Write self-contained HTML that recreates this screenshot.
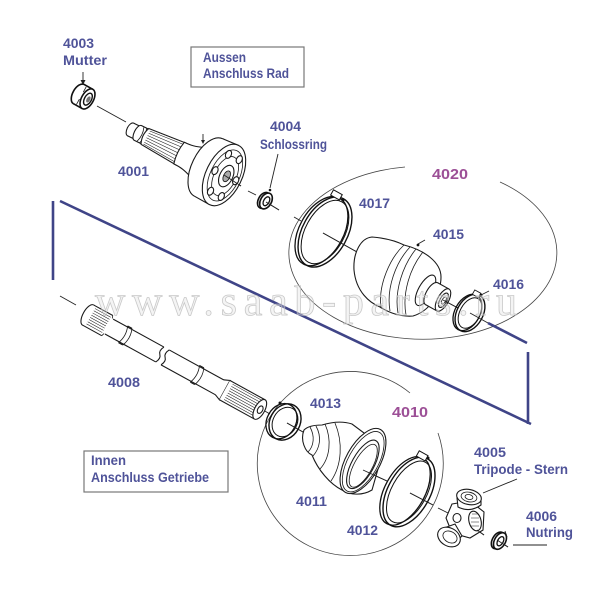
<!DOCTYPE html>
<html><head><meta charset="utf-8"><style>
html,body{margin:0;padding:0;background:#fff;}
svg{display:block}
.l{font-family:"Liberation Sans",sans-serif;font-size:13.5px;font-weight:bold;fill:#4f5399}
.p{font-family:"Liberation Sans",sans-serif;font-size:14.5px;font-weight:bold;fill:#9c4f96}
.k{fill:#fff;stroke:#1a1a1a;stroke-width:1.1}
.t{fill:none;stroke:#1a1a1a;stroke-width:0.8}
.s{fill:none;stroke:#1a1a1a;stroke-width:0.55}
.c{fill:none;stroke:#222;stroke-width:0.9}
.n{fill:none;stroke:#3f4487;stroke-width:2.6;stroke-linecap:butt}
</style></head><body>
<svg width="600" height="600" viewBox="0 0 600 600" xmlns="http://www.w3.org/2000/svg">
<rect width="600" height="600" fill="#fff"/>

<!-- group ellipses -->
<path d="M500,182 A134,86.5 0 1 1 405,167" fill="none" stroke="#444" stroke-width="0.8"/>
<path d="M438,433 A93,92 0 1 1 410,393" fill="none" stroke="#444" stroke-width="0.8"/>

<!-- bracket -->
<path class="n" d="M53,201 L53,280"/>
<path class="n" d="M60,201 L531,424"/>
<path class="n" d="M528,352 L528,424"/>
<path class="n" d="M488,323 L527,343"/>

<!-- boxes -->
<rect x="191" y="47" width="113" height="40" fill="#fff" stroke="#777" stroke-width="1.2"/>
<rect x="84" y="451" width="144" height="41" fill="#fff" stroke="#777" stroke-width="1.2"/>

<!-- connector lines upper -->
<path class="c" d="M97,106 L126,122"/>
<path class="c" d="M224,175 L241,186 M248,191 L256,195 M266,202 L279,210 M294,217 L301,221 M323,233 L357,252 M443,300 L458,308"/>

<!-- nut 4003 -->
<g transform="translate(84,97) rotate(29)">
  <ellipse cx="-6" cy="0" rx="6" ry="11" fill="#fff" stroke="#111" stroke-width="1.6"/>
  <rect x="-6" y="-11" width="10" height="22" fill="#fff"/>
  <path d="M-6,-11 H4 M-6,11 H4" stroke="#111" stroke-width="1.6" fill="none"/>
  <path d="M-3,-10 L-3,-4 M-3,4 L-3,10" class="t"/>
  <ellipse cx="4" cy="0" rx="6" ry="11" fill="#fff" stroke="#111" stroke-width="1.6"/>
  <ellipse cx="4.5" cy="0" rx="3.5" ry="6.5" fill="#fff" stroke="#111" stroke-width="1.4"/>
  <ellipse cx="5" cy="0" rx="1.8" ry="3.4" fill="#777"/>
</g>

<!-- joint 4001 -->
<g transform="translate(224,175) rotate(26)">
  <ellipse cx="-104" cy="0" rx="3.5" ry="7" class="k"/>
  <rect x="-104" y="-7" width="8" height="14" fill="#fff"/>
  <path class="k" d="M-104,-7 H-96 M-104,7 H-96"/>
  <ellipse cx="-96" cy="0" rx="3.5" ry="8.2" class="k"/>
  <rect x="-96" y="-8.2" width="9" height="16.4" fill="#fff"/>
  <path class="k" d="M-96,-8.2 H-87 M-96,8.2 H-87"/>
  <path class="t" d="M-93,-8 Q-90,0 -93,8 M-90,-8 Q-87,0 -90,8"/>
  <path class="k" d="M-88,-8.8 L-48,-12 L-48,12 L-88,8.8 Q-92,0 -88,-8.8 Z"/>
  <path class="s" d="M-86,-7 L-49,-9.8 M-86,-4.5 L-49,-6.5 M-86,-2 L-49,-3.2 M-86,0.5 L-49,0.2 M-86,3 L-49,3.6 M-86,5.5 L-49,7 M-86,7.5 L-49,9.8"/>
  <path class="k" d="M-50,-12 C-42,-12 -38,-13 -30,-16 L-30,16 C-38,13 -42,12 -50,12 Q-53,0 -50,-12 Z"/>
  <ellipse cx="-17" cy="0" rx="17" ry="32" class="k"/>
  <rect x="-17" y="-32" width="17" height="64" fill="#fff"/>
  <path class="k" d="M-17,-32 L0,-33 M-17,32 L0,33"/>
  <ellipse cx="0" cy="0" rx="18" ry="33" class="k" stroke-width="1.3"/>
  <ellipse cx="1" cy="0" rx="14.5" ry="27.5" class="t"/>
  <ellipse cx="1.5" cy="0.5" rx="11" ry="21" class="t"/>
  <ellipse cx="13" cy="0" rx="2.8" ry="4.2" class="k"/>
  <ellipse cx="7" cy="20.5" rx="2.8" ry="4.2" class="k"/>
  <ellipse cx="-5" cy="20.5" rx="2.8" ry="4.2" class="k"/>
  <ellipse cx="-10" cy="0" rx="2.8" ry="4.2" class="k"/>
  <ellipse cx="-5" cy="-20.5" rx="2.8" ry="4.2" class="k"/>
  <ellipse cx="7" cy="-20.5" rx="2.8" ry="4.2" class="k"/>
  <ellipse cx="2.5" cy="0" rx="6.5" ry="11.5" class="k"/>
  <ellipse cx="3" cy="0" rx="3.2" ry="5.8" fill="#aaa" stroke="#111" stroke-width="0.8"/>
</g>
<path class="c" d="M224,175 L241,186"/>

<!-- ring 4004 -->
<g transform="translate(266,201) rotate(29)">
  <ellipse cx="-2.2" cy="0.5" rx="5.5" ry="8.5" fill="#fff" stroke="#111" stroke-width="1.6"/>
  <ellipse cx="0" cy="0" rx="5.5" ry="8.5" fill="#fff" stroke="#111" stroke-width="1.6"/>
  <ellipse cx="0.5" cy="0" rx="2.8" ry="4.8" fill="#fff" stroke="#111" stroke-width="1.3"/>
</g>
<path class="c" d="M266,202 L279,210"/>

<!-- ring 4017 -->
<g transform="translate(325,232) rotate(29)">
  <ellipse cx="-3.5" cy="1" rx="22" ry="37.5" fill="none" stroke="#111" stroke-width="1.3"/>
  <ellipse cx="0" cy="0" rx="22.5" ry="38" fill="none" stroke="#111" stroke-width="1.4"/>
  <ellipse cx="0" cy="0" rx="19.5" ry="34.5" fill="none" stroke="#111" stroke-width="1"/>
  <rect x="-13" y="-41" width="10" height="6" fill="#fff" stroke="#111" stroke-width="1"/>
</g>
<path class="c" d="M323,233 L357,252"/>

<!-- boot 4015 -->
<path class="k" stroke-width="1.3" d="M372,237 C385,238 396,241 404,245 C424,250 441,262 441,277 C441,293 430,311 413,316 C400,317 388,312 380,307 C370,303 356,292 354,270 C353,252 361,238 372,237 Z"/>
<path class="t" d="M404,245 C390,258 378,285 381,307 M410,247 C396,262 386,288 390,311 M416,249 C403,265 394,291 398,313 M423,252 C410,268 402,293 406,315"/>
<g transform="translate(443,300) rotate(29)">
  <ellipse cx="-20" cy="0" rx="7" ry="17" class="k"/>
  <ellipse cx="-13" cy="0" rx="5.5" ry="12.5" class="k"/>
  <rect x="-13" y="-12.5" width="13" height="25" fill="#fff"/>
  <path class="k" d="M-13,-12.5 H0 M-13,12.5 H0"/>
  <ellipse cx="0" cy="0" rx="5.5" ry="12.5" class="k"/>
  <ellipse cx="0.5" cy="0" rx="3.5" ry="8" class="k"/>
  <ellipse cx="1" cy="0" rx="1.8" ry="4" class="t"/>
</g>
<path class="c" d="M443,300 L458,308"/>

<!-- ring 4016 -->
<g transform="translate(470,313) rotate(29)">
  <ellipse cx="-2.5" cy="0.8" rx="12.5" ry="19.5" fill="none" stroke="#111" stroke-width="1.3"/>
  <ellipse cx="0" cy="0" rx="13" ry="20" fill="none" stroke="#111" stroke-width="1.4"/>
  <ellipse cx="0" cy="0" rx="10" ry="16.5" fill="none" stroke="#111" stroke-width="1"/>
  <rect x="-7" y="-22.5" width="7" height="5" fill="#fff" stroke="#111" stroke-width="0.9"/>
</g>
<path class="c" d="M470,313 L488,323"/>

<!-- lower connectors -->
<path class="c" d="M60,296 L76,305 M263,410 L270,414 M287,423 L303,432 M363,470 L387,481 M410,493 L433,505 M438,508 L450,514 M477,530 L484,535 M497,540 L508,547"/>

<!-- shaft 4008 -->
<g transform="translate(88,315) rotate(28.8)">
  <ellipse cx="0" cy="0" rx="5" ry="11.5" class="k"/>
  <rect x="0" y="-11.5" width="22" height="23" fill="#fff"/>
  <path class="k" d="M0,-11.5 H22 M0,11.5 H22"/>
  <path class="s" d="M3,-9 H21 M3,-6.5 H21 M3,-4 H21 M3,-1.5 H21 M3,1 H21 M3,3.5 H21 M3,6 H21 M3,8.5 H21"/>
  <path class="t" d="M22,-11.5 Q26,0 22,11.5"/>
  <rect x="22" y="-8.5" width="60" height="17" fill="#fff"/>
  <path class="k" d="M24,-8.5 H82 M24,8.5 H82"/>
  <path class="k" d="M40,-9.5 H45 M40,9.5 H45"/>
  <path class="t" d="M40,-9.5 Q44,0 40,9.5 M45,-9.5 Q49,0 45,9.5"/>
  <path class="k" d="M82,-8.5 Q79,-3 82,0 Q85,3 82,8.5"/>
  <rect x="88" y="-8.5" width="64" height="17" fill="#fff"/>
  <path class="k" d="M88,-8.5 Q85,-3 88,0 Q91,3 88,8.5"/>
  <path class="k" d="M88,-8.5 H152 M88,8.5 H152"/>
  <path class="k" d="M122,-9.5 H127 M122,9.5 H127"/>
  <path class="t" d="M122,-9.5 Q126,0 122,9.5 M127,-9.5 Q131,0 127,9.5"/>
  <path class="k" d="M150,-8.5 L156,-11 L156,11 L150,8.5"/>
  <rect x="156" y="-11" width="40" height="22" fill="#fff"/>
  <path class="k" d="M156,-11 H196 M156,11 H196"/>
  <path class="s" d="M160,-9 H194 M160,-6.5 H194 M160,-4 H194 M160,-1.5 H194 M160,1 H194 M160,3.5 H194 M160,6 H194 M160,8.5 H194"/>
  <ellipse cx="196" cy="0" rx="5" ry="11" class="k"/>
  <ellipse cx="196.5" cy="0" rx="2.5" ry="4" class="k"/>
</g>

<!-- ring 4013 -->
<g transform="translate(285,422) rotate(29)">
  <ellipse cx="-3.5" cy="1" rx="14.5" ry="18.5" fill="none" stroke="#111" stroke-width="1.3"/>
  <ellipse cx="0" cy="0" rx="15" ry="19" fill="none" stroke="#111" stroke-width="1.4"/>
  <ellipse cx="0" cy="0" rx="12" ry="15.5" fill="none" stroke="#111" stroke-width="1"/>
</g>
<path class="c" d="M287,423 L303,432"/>

<!-- boot 4011 -->
<path class="k" stroke-width="1.3" d="M304,430 C308,426 316,425 322,425 C332,422 343,421 352,424 L384,448 L372,490 C362,496 350,495 342,490 C330,484 318,470 312,455 C305,452 300,440 304,430 Z"/>
<path class="t" d="M310,427 C315,436 314,446 308,452 M316,426 C322,437 320,448 313,456 M325,424 C332,440 330,458 320,469 M335,423 C343,442 342,465 331,481"/>
<g transform="translate(363,461) rotate(29)">
  <ellipse cx="0" cy="0" rx="17" ry="36" class="k" stroke-width="1.3"/>
  <ellipse cx="0.5" cy="0.5" rx="15" ry="33.5" class="t"/>
  <ellipse cx="1.5" cy="3" rx="11" ry="27" class="k" stroke-width="1.2"/>
  <ellipse cx="2.5" cy="4" rx="9" ry="24" class="t"/>
</g>
<path class="c" d="M363,470 L387,481"/>

<!-- ring 4012 -->
<g transform="translate(409,492) rotate(29)">
  <ellipse cx="-4" cy="1" rx="20" ry="37.5" fill="none" stroke="#111" stroke-width="1.3"/>
  <ellipse cx="0" cy="0" rx="21" ry="38" fill="none" stroke="#111" stroke-width="1.4"/>
  <ellipse cx="0" cy="0" rx="17.5" ry="34" fill="none" stroke="#111" stroke-width="1"/>
  <rect x="-11" y="-41" width="10" height="6" fill="#fff" stroke="#111" stroke-width="1"/>
</g>
<path class="c" d="M410,493 L433,505"/>

<!-- tripod 4005 -->
<path class="k" d="M452,504 L470,501 L484,512 L483,530 L470,538 L452,533 L446,518 Z"/>
<ellipse cx="457" cy="518" rx="4" ry="4.5" class="k"/>
<ellipse cx="475" cy="521" rx="6" ry="10" transform="rotate(-15 475 521)" class="k"/>
<path class="s" d="M472,514 L478,514 M471,518 L479,518 M471,522 L479,522 M471,526 L479,526"/>
<path class="k" d="M457,498 L458,507 Q470,513 481,505 L481,497 Z"/>
<ellipse cx="469" cy="497" rx="12.5" ry="7.5" transform="rotate(12 469 497)" class="k" stroke-width="1.3"/>
<ellipse cx="469" cy="497" rx="8" ry="4.8" transform="rotate(12 469 497)" class="t"/>
<ellipse cx="469" cy="497" rx="4" ry="2.4" transform="rotate(12 469 497)" class="t"/>
<path class="k" d="M444,528 L455,524 L462,536 L452,545 Z"/>
<ellipse cx="449" cy="537" rx="12" ry="9" transform="rotate(30 449 537)" class="k" stroke-width="1.3"/>
<ellipse cx="450" cy="537" rx="7.5" ry="5.5" transform="rotate(30 450 537)" class="t"/>
<path class="c" d="M477,530 L484,535"/>

<!-- ring 4006 -->
<g transform="translate(500,541) rotate(29)">
  <ellipse cx="-2.2" cy="0.5" rx="5.5" ry="9" fill="#fff" stroke="#111" stroke-width="1.6"/>
  <ellipse cx="0" cy="0" rx="5.5" ry="9" fill="#fff" stroke="#111" stroke-width="1.6"/>
  <ellipse cx="0.5" cy="0" rx="2.8" ry="5" fill="#fff" stroke="#111" stroke-width="1.3"/>
</g>
<path class="c" d="M497,540 L508,547"/>

<!-- leaders / arrows / dots -->
<path class="c" d="M83,72 L83,81"/>
<path d="M80.5,80 L85.5,80 L83,85 Z" fill="#222"/>
<path class="c" d="M203,134 L203,141"/>
<path d="M201,140 L205,140 L203,144 Z" fill="#222"/>
<path class="c" d="M278,154 L270,188"/>
<circle cx="270" cy="190" r="1.3" fill="#111"/>
<circle cx="343" cy="200" r="1.5" fill="#111"/>
<path class="c" d="M418,244 L425,240"/>
<circle cx="418" cy="245" r="1.4" fill="#111"/>
<path class="c" d="M481,295 L489,291"/>
<circle cx="481" cy="295" r="1.4" fill="#111"/>
<circle cx="280" cy="403" r="1.5" fill="#111"/>
<circle cx="428" cy="458" r="1.5" fill="#111"/>
<path class="c" d="M483,493 L517,479"/>
<path class="c" d="M513,545 L547,545"/>
<path class="c" d="M505,531 L507,537"/>

<!-- watermark -->
<text x="95" y="315" font-family="Liberation Serif, serif" font-size="42" textLength="422" lengthAdjust="spacing" fill="#e0e0e0" fill-opacity="0.35" stroke="#bdbdbd" stroke-width="0.8" stroke-opacity="0.8">www.saab-parts.ru</text>

<!-- labels -->
<text class="l" x="63" y="48" textLength="31" lengthAdjust="spacingAndGlyphs">4003</text>
<text class="l" x="63" y="65" textLength="44" lengthAdjust="spacingAndGlyphs">Mutter</text>
<text class="l" x="203" y="62" textLength="43" lengthAdjust="spacingAndGlyphs">Aussen</text>
<text class="l" x="203" y="78" textLength="86" lengthAdjust="spacingAndGlyphs">Anschluss Rad</text>
<text class="l" x="270" y="131" textLength="31" lengthAdjust="spacingAndGlyphs">4004</text>
<text class="l" x="260" y="149" textLength="67" lengthAdjust="spacingAndGlyphs">Schlossring</text>
<text class="l" x="118" y="176" textLength="31" lengthAdjust="spacingAndGlyphs">4001</text>
<text class="p" x="432" y="179" textLength="36" lengthAdjust="spacingAndGlyphs">4020</text>
<text class="l" x="359" y="208" textLength="31" lengthAdjust="spacingAndGlyphs">4017</text>
<text class="l" x="433" y="239" textLength="31" lengthAdjust="spacingAndGlyphs">4015</text>
<text class="l" x="493" y="289" textLength="31" lengthAdjust="spacingAndGlyphs">4016</text>
<text class="l" x="108" y="387" textLength="32" lengthAdjust="spacingAndGlyphs">4008</text>
<text class="l" x="310" y="408" textLength="31" lengthAdjust="spacingAndGlyphs">4013</text>
<text class="p" x="392" y="417" textLength="36" lengthAdjust="spacingAndGlyphs">4010</text>
<text class="l" x="296" y="506" textLength="31" lengthAdjust="spacingAndGlyphs">4011</text>
<text class="l" x="347" y="535" textLength="31" lengthAdjust="spacingAndGlyphs">4012</text>
<text class="l" x="474" y="457" textLength="32" lengthAdjust="spacingAndGlyphs">4005</text>
<text class="l" x="474" y="474" textLength="94" lengthAdjust="spacingAndGlyphs">Tripode - Stern</text>
<text class="l" x="526" y="521" textLength="31" lengthAdjust="spacingAndGlyphs">4006</text>
<text class="l" x="526" y="537" textLength="47" lengthAdjust="spacingAndGlyphs">Nutring</text>
<text class="l" x="91" y="465" textLength="35" lengthAdjust="spacingAndGlyphs">Innen</text>
<text class="l" x="91" y="482" textLength="118" lengthAdjust="spacingAndGlyphs">Anschluss Getriebe</text>
</svg>
</body></html>
